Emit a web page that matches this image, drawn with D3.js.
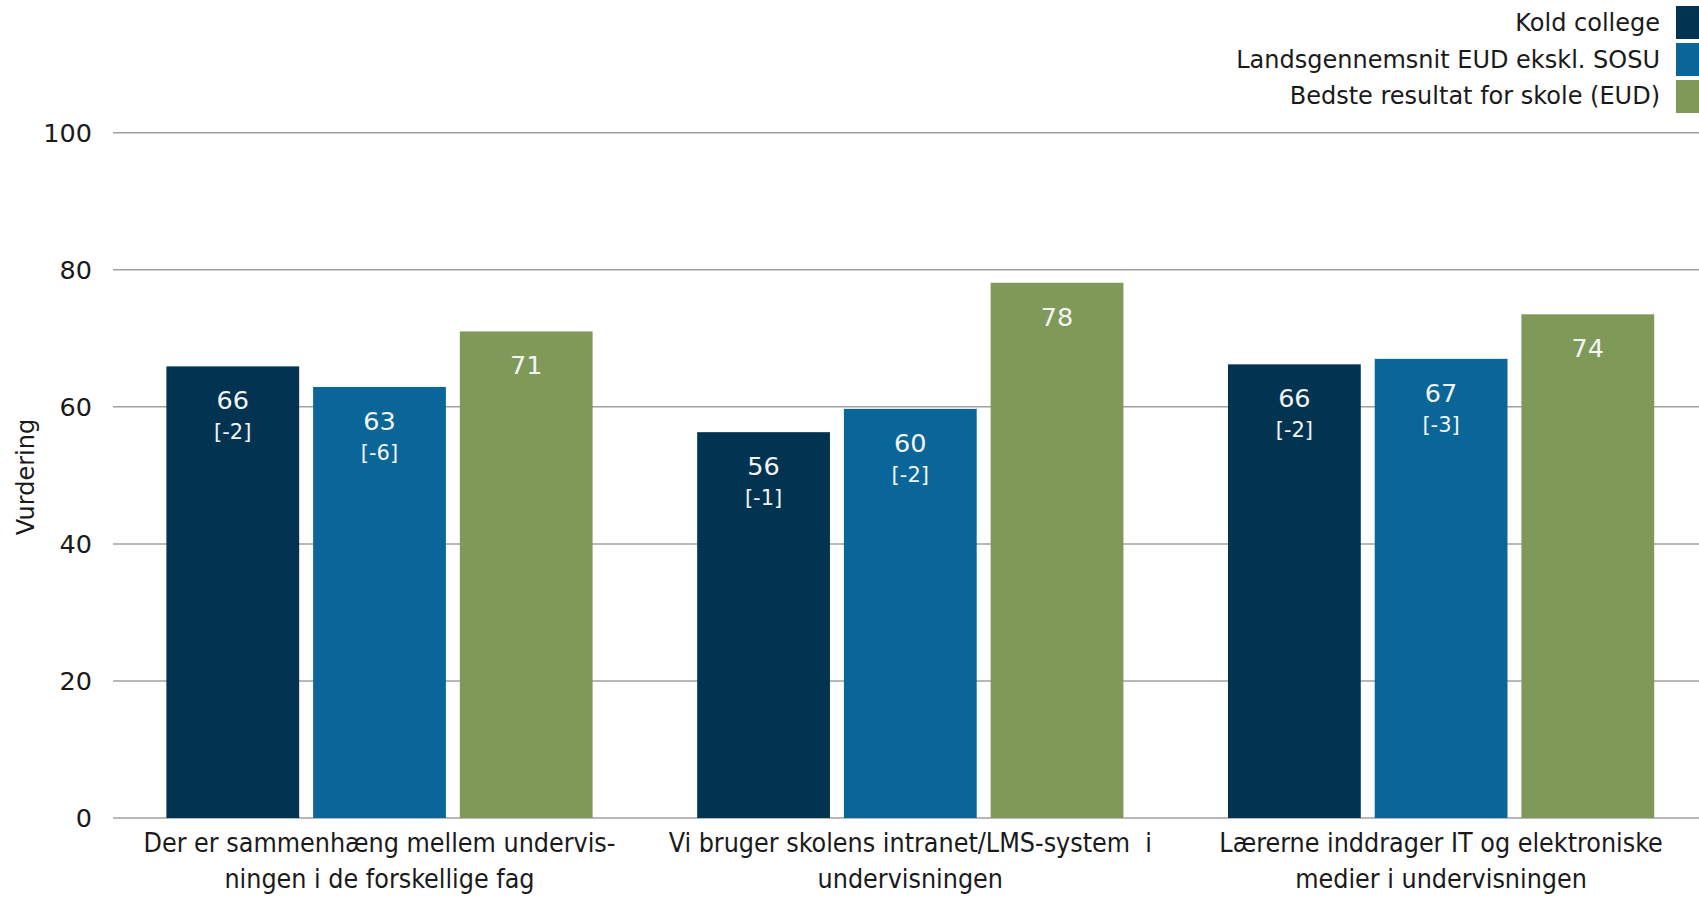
<!DOCTYPE html>
<html><head><meta charset="utf-8">
<script src="https://cdn.jsdelivr.net/npm/d3@7"></script>
<style>
html,body{margin:0;padding:0;background:#fff;overflow:hidden}
svg{display:block}
</style></head>
<body>
<svg id="chart" width="1699" height="897"></svg>
<script>
const categories = [
  ["Der er sammenhæng mellem undervis-", "ningen i de forskellige fag"],
  ["Vi bruger skolens intranet/LMS-system  i", "undervisningen"],
  ["Lærerne inddrager IT og elektroniske", "medier i undervisningen"]
];
const seriesNames = ["Kold college", "Landsgennemsnit EUD ekskl. SOSU", "Bedste resultat for skole (EUD)"];
const koldValues = [65.9, 56.3, 66.2];
const landsValues = [62.9, 59.7, 67.0];
const bestValues = [71.0, 78.1, 73.5];
const koldDiff = ["[-2]", "[-1]", "[-2]"];
const landsDiff = ["[-6]", "[-2]", "[-3]"];
const bestDiff = [null, null, null];
const yTicks = [0, 20, 40, 60, 80, 100];
const colors = ["#023452", "#0a6699", "#7f9959"];

const series = [
  {name: seriesNames[0], values: koldValues, diffs: koldDiff},
  {name: seriesNames[1], values: landsValues, diffs: landsDiff},
  {name: seriesNames[2], values: bestValues, diffs: bestDiff}
];

const svg = d3.select("#chart");
const font = "Tahoma, 'DejaVu Sans', sans-serif";

const y = d3.scaleLinear().domain([0, 100]).range([818, 132.7]);
const x0 = d3.scaleBand().domain(d3.range(categories.length))
  .range([114.1, 1706.5]).paddingInner(0.197).paddingOuter(0.0985);
const x1 = d3.scaleBand().domain(d3.range(series.length))
  .range([0, x0.bandwidth()]).paddingInner(0.095).paddingOuter(0);

// gridlines
const gridG = svg.append("g");
gridG.selectAll("line").data(yTicks).join("line")
  .attr("x1", 113).attr("x2", 1699)
  .attr("y1", d => y(d)).attr("y2", d => y(d))
  .attr("stroke", "#a0a0a0").attr("stroke-width", 1.5);

// y axis labels
const yAxis = d3.axisLeft(y).tickValues(yTicks).tickSize(0).tickPadding(0);
const yg = svg.append("g").attr("transform", "translate(92,0)").call(yAxis);
yg.select(".domain").remove();
yg.selectAll("text").attr("font-family", font).attr("font-size", 25.5).attr("fill", "#1a1a1a").attr("dy", "0.35em");

// y title
svg.append("text").attr("transform", "translate(34,477) rotate(-90)")
  .attr("text-anchor", "middle").attr("font-family", font).attr("font-size", 24)
  .attr("fill", "#1a1a1a").text("Vurdering");

// bars
const groups = svg.append("g").selectAll("g").data(categories).join("g")
  .attr("transform", (d, i) => `translate(${x0(i)},0)`);

groups.each(function(cat, ci) {
  const g = d3.select(this);
  series.forEach((s, si) => {
    const v = s.values[ci];
    const bx = x1(si), bw = x1.bandwidth();
    g.append("rect").attr("x", bx).attr("y", y(v)).attr("width", bw)
      .attr("height", y(0) - y(v)).attr("fill", colors[si]);
    g.append("text").attr("x", bx + bw / 2).attr("y", y(v) + 43)
      .attr("text-anchor", "middle").attr("font-family", font).attr("font-size", 25.5)
      .attr("fill", "#f4f4f4").text(Math.round(v));
    if (s.diffs[ci]) {
      g.append("text").attr("x", bx + bw / 2).attr("y", y(v) + 73)
        .attr("text-anchor", "middle").attr("font-family", font).attr("font-size", 21)
        .attr("fill", "#f4f4f4").text(s.diffs[ci]);
    }
  });
  const t = g.append("text").attr("text-anchor", "middle")
    .attr("font-family", "'DejaVu Sans Condensed', 'Liberation Sans Narrow', sans-serif")
    .attr("font-stretch", "condensed")
    .style("white-space", "pre")
    .attr("font-size", 26.6).attr("fill", "#1a1a1a");
  cat.forEach((line, li) => {
    t.append("tspan").attr("x", x0.bandwidth() / 2).attr("y", 852 + li * 36).text(line);
  });
});

// legend
const lg = svg.append("g");
series.forEach((s, i) => {
  lg.append("rect").attr("x", 1676).attr("y", 6 + i * 37).attr("width", 30).attr("height", 33)
    .attr("fill", colors[i]);
  lg.append("text").attr("x", 1660).attr("y", 31 + i * 36.5).attr("text-anchor", "end")
    .attr("font-family", font).attr("font-size", 24).attr("fill", "#1a1a1a").text(s.name);
});
</script>
</body></html>
